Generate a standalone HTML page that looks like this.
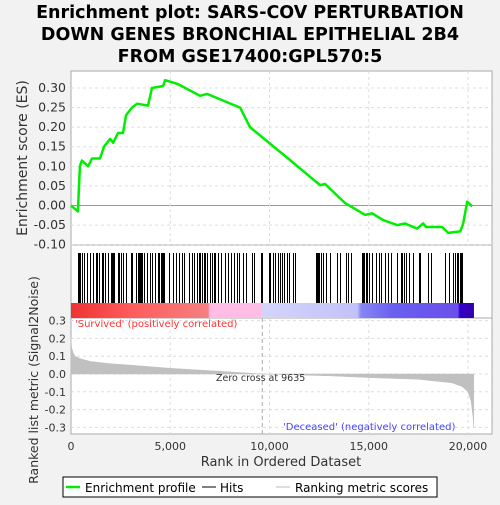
<!DOCTYPE html>
<html><head><meta charset="utf-8"><style>
body{margin:0;background:#f2f2f2;font-family:"Liberation Sans","DejaVu Sans",sans-serif}
svg text{font-family:"DejaVu Sans","Liberation Sans",sans-serif}
</style></head><body>
<svg id="c" width="500" height="500" xmlns="http://www.w3.org/2000/svg">
<rect width="500" height="500" fill="#f2f2f2"/>
<g font-weight="bold" font-size="17.5" text-anchor="middle" fill="#000">
<text x="250" y="18">Enrichment plot: SARS-COV PERTURBATION</text>
<text x="250" y="40">DOWN GENES BRONCHIAL EPITHELIAL 2B4</text>
<text x="250" y="62">FROM GSE17400:GPL570:5</text>
</g>
<rect x="71" y="71" width="421" height="174" fill="#fff" stroke="#aaa"/>
<rect x="71" y="245" width="421" height="73" fill="#fff" stroke="#aaa"/>
<rect x="71" y="318" width="421" height="116" fill="#fff" stroke="#aaa"/>
<g id="g"></g>
<g><text transform="translate(27,158) rotate(-90)" text-anchor="middle" font-size="14" fill="#333">Enrichment score (ES)</text></g>
<g><text transform="translate(38,380) rotate(-90)" text-anchor="middle" font-size="12.5" fill="#333">Ranked list metric (Signal2Noise)</text></g>
<text x="281" y="466" text-anchor="middle" font-size="13" fill="#333">Rank in Ordered Dataset</text>
<text x="75" y="327" font-size="10" fill="#ff3333">'Survived' (positively correlated)</text>
<text x="283" y="430" font-size="10" fill="#4444ff">'Deceased' (negatively correlated)</text>
<text x="216" y="381" font-size="9.5" fill="#333">Zero cross at 9635</text>
<g>
<rect x="63" y="477" width="374" height="20" fill="#fff" stroke="#000"/>
<line x1="66" y1="487" x2="80" y2="487" stroke="#00ee00" stroke-width="2.5"/>
<text x="85" y="492" font-size="12" fill="#000">Enrichment profile</text>
<line x1="202" y1="487" x2="216" y2="487" stroke="#000"/>
<text x="220" y="492" font-size="12" fill="#000">Hits</text>
<line x1="276" y1="487" x2="290" y2="487" stroke="#bbb"/>
<text x="295" y="492" font-size="12" fill="#000">Ranking metric scores</text>
</g>
</svg>
<script>
const esTicks=[0.30,0.25,0.20,0.15,0.10,0.05,0.00,-0.05,-0.10];
const metricTicks=[0.3,0.2,0.1,0.0,-0.1,-0.2,-0.3];
const xTicks=[0,5000,10000,15000,20000];
const esRanks=[0,350,450,550,860,1060,1460,1660,1970,2120,2370,2620,2770,3070,3330,3880,4080,4640,4740,5390,6500,6850,8520,9020,11040,12050,12550,12800,13810,14820,15170,15720,16430,16830,17440,17740,17890,18700,19000,19610,19760,19960,20210];
const esValues=[0,-0.015,0.10,0.115,0.10,0.12,0.12,0.15,0.17,0.16,0.185,0.185,0.23,0.25,0.26,0.255,0.30,0.305,0.32,0.31,0.28,0.285,0.25,0.20,0.116,0.073,0.052,0.055,0.006,-0.024,-0.02,-0.037,-0.05,-0.046,-0.059,-0.046,-0.055,-0.055,-0.07,-0.066,-0.046,0.01,-0.002];
const hitRanks=[350,400,450,550,650,800,950,1100,1250,1300,1400,1550,1600,1700,1850,2000,2050,2100,2150,2350,2400,2500,2600,2750,3000,3050,3250,3400,3450,3500,3550,3600,3700,3850,4000,4100,4250,4400,4450,4550,4600,4650,4700,4950,5150,5300,5450,5600,5700,5950,6100,6200,6350,6450,6500,6600,6700,6750,6850,7000,7100,7200,7250,7400,7550,7750,7900,8050,8200,8350,8450,8650,8800,9100,9200,9550,9600,9950,10000,10200,10300,10450,10550,10650,10750,10900,11000,11200,11300,12350,12400,12450,12500,12600,12700,12850,13050,13400,13550,13850,13950,14100,14650,14700,14750,14850,14900,15000,15150,15350,15500,15600,15800,15950,16100,16400,16600,16700,16800,16900,17050,17250,17550,17600,18000,18150,18850,19050,19250,19350,19450,19500,19600,19650,19700];
const metricRanks=[0,30,100,200,500,1000,2000,3000,5000,7500,9635,13000,15000,17500,19200,19700,20000,20150,20250,20290];
const metricValues=[0.2,0.15,0.12,0.1,0.085,0.07,0.058,0.05,0.032,0.015,0,-0.01,-0.02,-0.03,-0.05,-0.07,-0.1,-0.15,-0.24,-0.3];
const zeroCross=9635;
const N=20300;
const X=r=>71+r*0.01985;
const YE=v=>205.5-v*391.7;
const YM=v=>374-v*178;
const NS='http://www.w3.org/2000/svg';
const g=document.getElementById('g');
function mk(t,a){const e=document.createElementNS(NS,t);for(const k in a)e.setAttribute(k,a[k]);g.appendChild(e);return e;}
esTicks.forEach(v=>{const y=YE(v);
 const l=mk('line',{x1:71,x2:492,y1:y,y2:y,stroke:v===0?'#999':'#ddd','stroke-dasharray':v===0?'':'3,3'});
 
 
 const t=mk('text',{x:66,y:y+4,'text-anchor':'end','font-size':12.5,fill:'#333'});t.textContent=v.toFixed(2);
 
 });
metricTicks.forEach(v=>{const y=YM(v);
 const l=mk('line',{x1:71,x2:492,y1:y,y2:y,stroke:'#ddd','stroke-dasharray':'3,3'});
 
 
 const t=mk('text',{x:66,y:y+4,'text-anchor':'end','font-size':11,fill:'#333'});t.textContent=v.toFixed(1);
 
 });
xTicks.forEach(v=>{const x=X(v);
 if(v>0){const l=mk('line',{x1:x,x2:x,y1:71,y2:245,stroke:'#ddd','stroke-dasharray':'3,3'});
 
 
 const l2=mk('line',{x1:x,x2:x,y1:318,y2:434,stroke:'#ddd','stroke-dasharray':'3,3'});
 
 }
 const t=mk('text',{x:x,y:450,'text-anchor':'middle','font-size':11,fill:'#333'});t.textContent=v.toLocaleString('en-US');
 
 });
const zc=mk('line',{x1:X(zeroCross),x2:X(zeroCross),y1:318,y2:434,stroke:'#aaa','stroke-dasharray':'4,3'});


const defs=mk('defs',{});
const lg=document.createElementNS(NS,'linearGradient');lg.setAttribute('id','cb');defs.appendChild(lg);
[[0,'#ee3333'],[0.15,'#ff5c5c'],[0.34,'#f58080'],[0.345,'#ffbde6'],[0.47,'#ffbde6'],[0.475,'#d4d4fa'],[0.71,'#c2c2fa'],[0.72,'#8686f5'],[0.8,'#6a5ff0'],[0.96,'#6a50ea'],[0.965,'#3300cc'],[1,'#3300aa']].forEach(s=>{const st=document.createElementNS(NS,'stop');st.setAttribute('offset',s[0]);st.setAttribute('stop-color',s[1]);lg.appendChild(st);});
const band=mk('rect',{x:71,y:303,width:X(N)-71,height:15,fill:'url(#cb)'});


hitRanks.forEach(r=>{const x=Math.round(X(r))+0.5;const l=mk('line',{x1:x,x2:x,y1:253,y2:303,stroke:'#000','stroke-width':1,'shape-rendering':'crispEdges'});
 
 });
let d='M'+X(0)+','+YM(0);
metricRanks.forEach((r,i)=>{d+=' L'+X(r).toFixed(1)+','+YM(metricValues[i]).toFixed(1);});
d+=' L'+X(metricRanks[metricRanks.length-1])+','+YM(0)+' Z';
const ma=mk('path',{d:d,fill:'#c0c0c0',stroke:'#c0c0c0','stroke-width':0.5});


const pts=esRanks.map((r,i)=>X(r).toFixed(1)+','+YE(esValues[i]).toFixed(1)).join(' ');
const es=mk('polyline',{points:pts,fill:'none',stroke:'#00ee00','stroke-width':2.5,'stroke-linejoin':'round'});


</script>
</body></html>
